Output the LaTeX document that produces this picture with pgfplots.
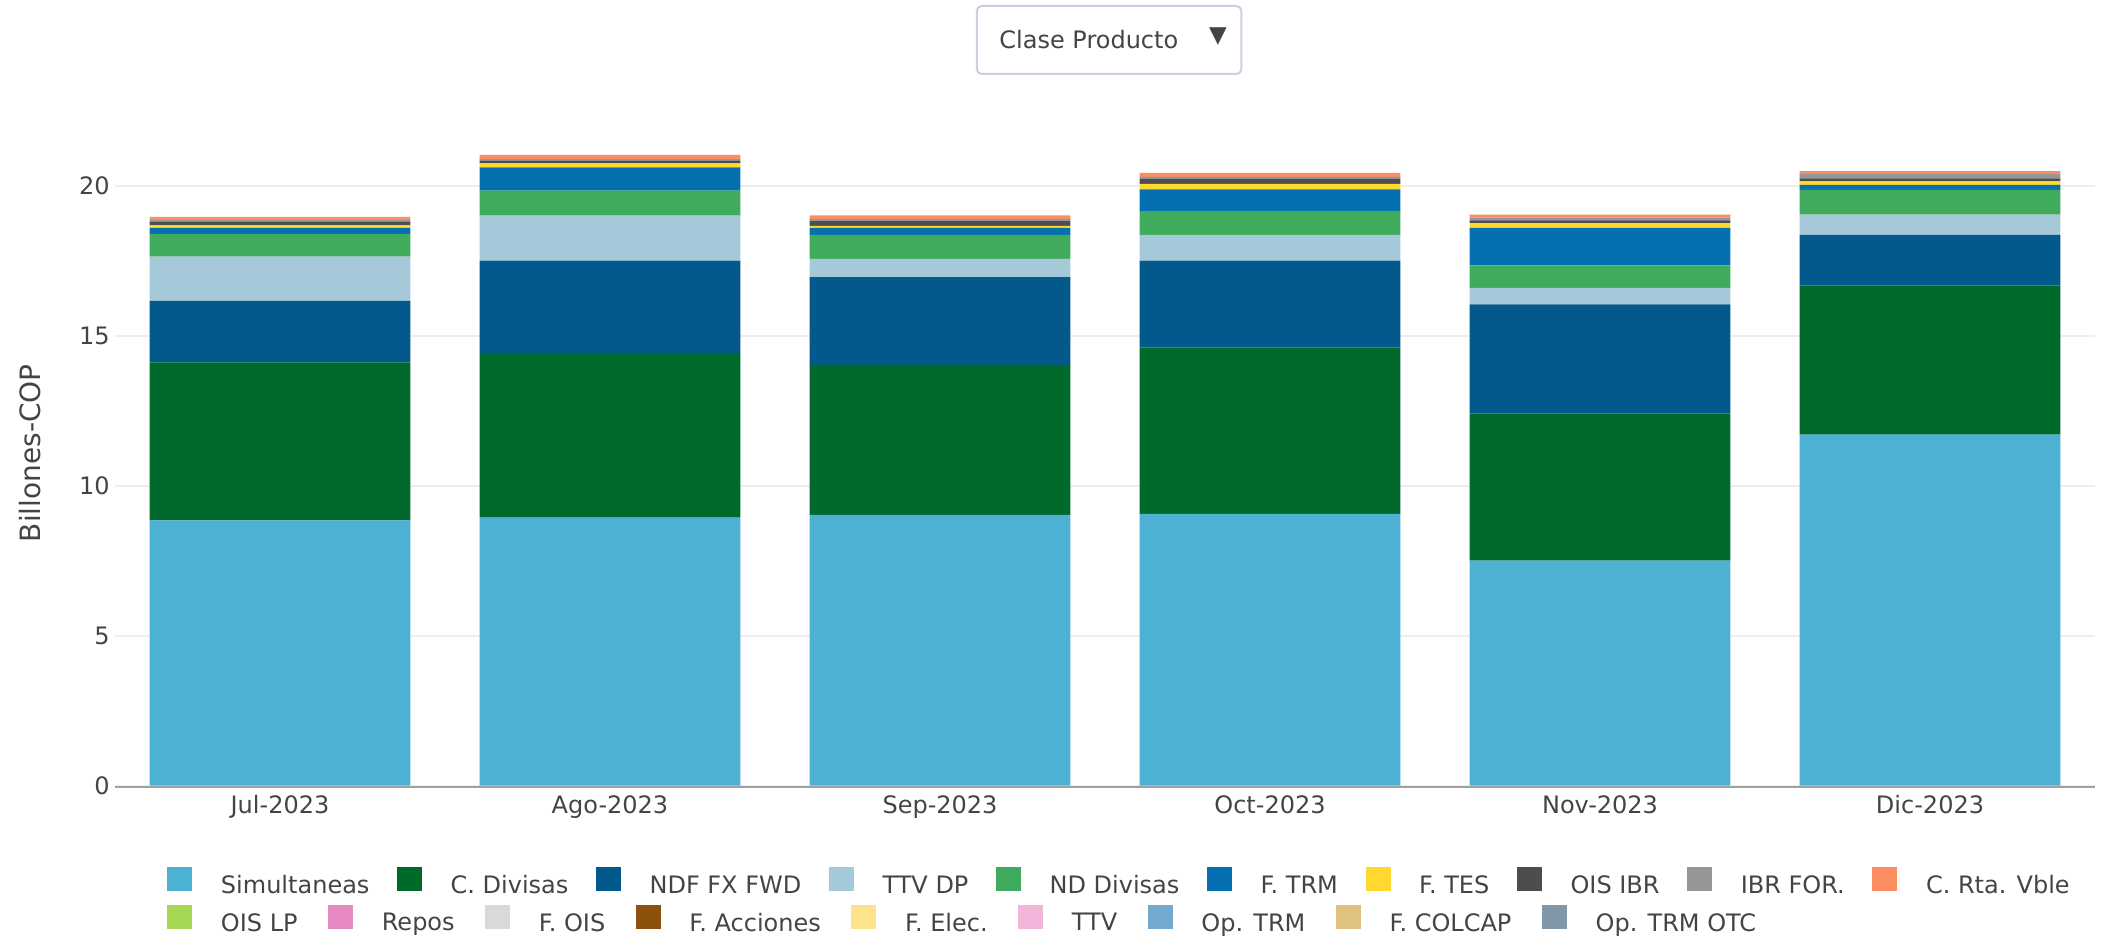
\documentclass[border=0pt]{standalone}
\usepackage{fontspec}
\setmainfont{DejaVu Sans}
\usepackage{pgfplots}
\pgfplotsset{compat=1.18}
\usepackage{pgfplotstable}

\definecolor{c444}{HTML}{444444}
\definecolor{cgrid}{HTML}{EEEEEE}
\definecolor{caxis}{HTML}{A0A0A0}
\definecolor{cbtn}{HTML}{C9D1E0}
\definecolor{cSim}{HTML}{4CB1D2}
\definecolor{cCDiv}{HTML}{006A2D}
\definecolor{cNDF}{HTML}{04598C}
\definecolor{cTTVDP}{HTML}{A6C9D9}
\definecolor{cNDDiv}{HTML}{41AB5D}
\definecolor{cFTRM}{HTML}{0570B0}
\definecolor{cFTES}{HTML}{FFD92F}
\definecolor{cOISIBR}{HTML}{4D4D4D}
\definecolor{cIBRFOR}{HTML}{969696}
\definecolor{cCRta}{HTML}{FC8D62}
\definecolor{cOISLP}{HTML}{A6D854}
\definecolor{cRepos}{HTML}{E78AC3}
\definecolor{cFOIS}{HTML}{D9D9D9}
\definecolor{cFAcc}{HTML}{8C510A}
\definecolor{cFElec}{HTML}{FFE38C}
\definecolor{cTTV}{HTML}{F1B6DA}
\definecolor{cOpTRM}{HTML}{74A9CF}
\definecolor{cFCOL}{HTML}{DFC27D}
\definecolor{cOpOTC}{HTML}{7F97A9}

\pgfplotstableread{
x Sim CDiv NDF TTVDP NDDiv FTRM FTES OISIBR IBRFOR CRta OISLP Repos FOIS FAcc FElec TTV OpTRM FCOL OpOTC
0 8.84 5.27 2.05 1.47 0.76 0.20 0.08 0.12 0.07 0.10 0 0 0 0 0 0 0 0 0
1 8.93 5.49 3.08 1.50 0.83 0.78 0.13 0.08 0.06 0.14 0 0 0 0 0 0 0 0 0
2 9.02 5.00 2.93 0.61 0.80 0.23 0.07 0.17 0.06 0.12 0 0 0 0 0 0 0 0 0
3 9.06 5.54 2.90 0.86 0.79 0.72 0.19 0.17 0.06 0.13 0 0 0 0 0 0 0 0 0
4 7.50 4.91 3.63 0.55 0.75 1.25 0.16 0.09 0.09 0.10 0 0 0 0 0 0 0 0 0
5 11.70 4.97 1.69 0.67 0.83 0.16 0.12 0.10 0.14 0.10 0 0 0 0 0 0 0 0 0
}\data

\begin{document}
\begin{tikzpicture}
\path[use as bounding box] (-57.5pt,-75.2pt) rectangle (993.5pt,392.8pt);

% dropdown button
\draw[draw=cbtn, line width=1pt, rounded corners=2.5pt, fill=white] (430.9pt,355.8pt) rectangle (563.2pt,389.8pt);
\node[anchor=west, inner sep=0pt, font=\fontsize{12}{14}\selectfont, text=c444] at (442pt,372.8pt) {Clase Producto};
\node[inner sep=0pt, font=\fontsize{11.5}{12}\selectfont, text=c444] at (551.5pt,374.5pt) {▼};

\begin{axis}[
  at={(0pt,0pt)}, anchor=south west,
  scale only axis, width=990pt, height=331.5pt,
  ybar stacked, bar width=0.79,
  xmin=-0.5, xmax=5.5, ymin=0, ymax=22.1,
  xtick={0,1,2,3,4,5},
  xticklabels={Jul-2023,Ago-2023,Sep-2023,Oct-2023,Nov-2023,Dic-2023},
  ytick={0,5,10,15,20},
  major tick length=0pt,
  ymajorgrids,
  major grid style={draw=cgrid, line width=1pt},
  separate axis lines,
  axis x line*=bottom,
  axis y line*=left,
  x axis line style={draw=caxis, line width=1pt, yshift=-0.5pt},
  y axis line style={draw=none},
  tick label style={font=\fontsize{12}{14}\selectfont, text=c444},
  /pgf/number format/assume math mode=true,
  xticklabel style={anchor=base, inner sep=0pt, yshift=-13.7pt},
  yticklabel style={anchor=east, inner sep=0pt, xshift=-2.5pt},
  every axis y label/.style={at={(axis description cs:-0.0429,0.5014)}, rotate=90, anchor=center},
  ylabel={Billones-COP},
  ylabel style={font=\fontsize{14}{16}\selectfont, text=c444},
  every axis plot/.append style={draw=none},
]
\addplot[fill=cSim] table[x=x,y=Sim]{\data};
\addplot[fill=cCDiv] table[x=x,y=CDiv]{\data};
\addplot[fill=cNDF] table[x=x,y=NDF]{\data};
\addplot[fill=cTTVDP] table[x=x,y=TTVDP]{\data};
\addplot[fill=cNDDiv] table[x=x,y=NDDiv]{\data};
\addplot[fill=cFTRM] table[x=x,y=FTRM]{\data};
\addplot[fill=cFTES] table[x=x,y=FTES]{\data};
\addplot[fill=cOISIBR] table[x=x,y=OISIBR]{\data};
\addplot[fill=cIBRFOR] table[x=x,y=IBRFOR]{\data};
\addplot[fill=cCRta] table[x=x,y=CRta]{\data};
\addplot[fill=cOISLP] table[x=x,y=OISLP]{\data};
\addplot[fill=cRepos] table[x=x,y=Repos]{\data};
\addplot[fill=cFOIS] table[x=x,y=FOIS]{\data};
\addplot[fill=cFAcc] table[x=x,y=FAcc]{\data};
\addplot[fill=cFElec] table[x=x,y=FElec]{\data};
\addplot[fill=cTTV] table[x=x,y=TTV]{\data};
\addplot[fill=cOpTRM] table[x=x,y=OpTRM]{\data};
\addplot[fill=cFCOL] table[x=x,y=FCOL]{\data};
\addplot[fill=cOpOTC] table[x=x,y=OpOTC]{\data};
\end{axis}

% legend row 1
\begin{axis}[
  at={(0pt,0pt)}, anchor=south west,
  scale only axis, width=990pt, height=331.5pt,
  hide axis, xmin=0, xmax=1, ymin=0, ymax=1,
  legend image code/.code={\fill[#1,draw=none] (0pt,-2.6pt) rectangle (12.5pt,9.4pt);},
  legend columns=-1,
  legend cell align=left,
  legend style={at={(axis description cs:0.02646,-0.1454)}, anchor=west,
    draw=none, fill=none, inner sep=0pt, outer sep=0pt,
    font=\fontsize{12}{14}\selectfont, text=c444, nodes={inner sep=0pt},
    /tikz/every odd column/.append style={column sep=14.3pt},
    /tikz/every even column/.append style={column sep=13.8pt}},
]
\addlegendimage{fill=cSim,draw=none}\addlegendentry{Simultaneas}
\addlegendimage{fill=cCDiv,draw=none}\addlegendentry{C. Divisas}
\addlegendimage{fill=cNDF,draw=none}\addlegendentry{NDF FX FWD}
\addlegendimage{fill=cTTVDP,draw=none}\addlegendentry{TTV DP}
\addlegendimage{fill=cNDDiv,draw=none}\addlegendentry{ND Divisas}
\addlegendimage{fill=cFTRM,draw=none}\addlegendentry{F. TRM}
\addlegendimage{fill=cFTES,draw=none}\addlegendentry{F. TES}
\addlegendimage{fill=cOISIBR,draw=none}\addlegendentry{OIS IBR}
\addlegendimage{fill=cIBRFOR,draw=none}\addlegendentry{IBR FOR.}
\addlegendimage{fill=cCRta,draw=none}\addlegendentry{C. Rta. Vble}
\end{axis}

% legend row 2
\begin{axis}[
  at={(0pt,0pt)}, anchor=south west,
  scale only axis, width=990pt, height=331.5pt,
  hide axis, xmin=0, xmax=1, ymin=0, ymax=1,
  legend image code/.code={\fill[#1,draw=none] (0pt,-2.6pt) rectangle (12.5pt,9.4pt);},
  legend columns=-1,
  legend cell align=left,
  legend style={at={(axis description cs:0.02646,-0.2021)}, anchor=west,
    draw=none, fill=none, inner sep=0pt, outer sep=0pt,
    font=\fontsize{12}{14}\selectfont, text=c444, nodes={inner sep=0pt},
    /tikz/every odd column/.append style={column sep=14.3pt},
    /tikz/every even column/.append style={column sep=15.3pt}},
]
\addlegendimage{fill=cOISLP,draw=none}\addlegendentry{OIS LP}
\addlegendimage{fill=cRepos,draw=none}\addlegendentry{Repos}
\addlegendimage{fill=cFOIS,draw=none}\addlegendentry{F. OIS}
\addlegendimage{fill=cFAcc,draw=none}\addlegendentry{F. Acciones}
\addlegendimage{fill=cFElec,draw=none}\addlegendentry{F. Elec.}
\addlegendimage{fill=cTTV,draw=none}\addlegendentry{TTV}
\addlegendimage{fill=cOpTRM,draw=none}\addlegendentry{Op. TRM}
\addlegendimage{fill=cFCOL,draw=none}\addlegendentry{F. COLCAP}
\addlegendimage{fill=cOpOTC,draw=none}\addlegendentry{Op. TRM OTC}
\end{axis}
\end{tikzpicture}
\end{document}
